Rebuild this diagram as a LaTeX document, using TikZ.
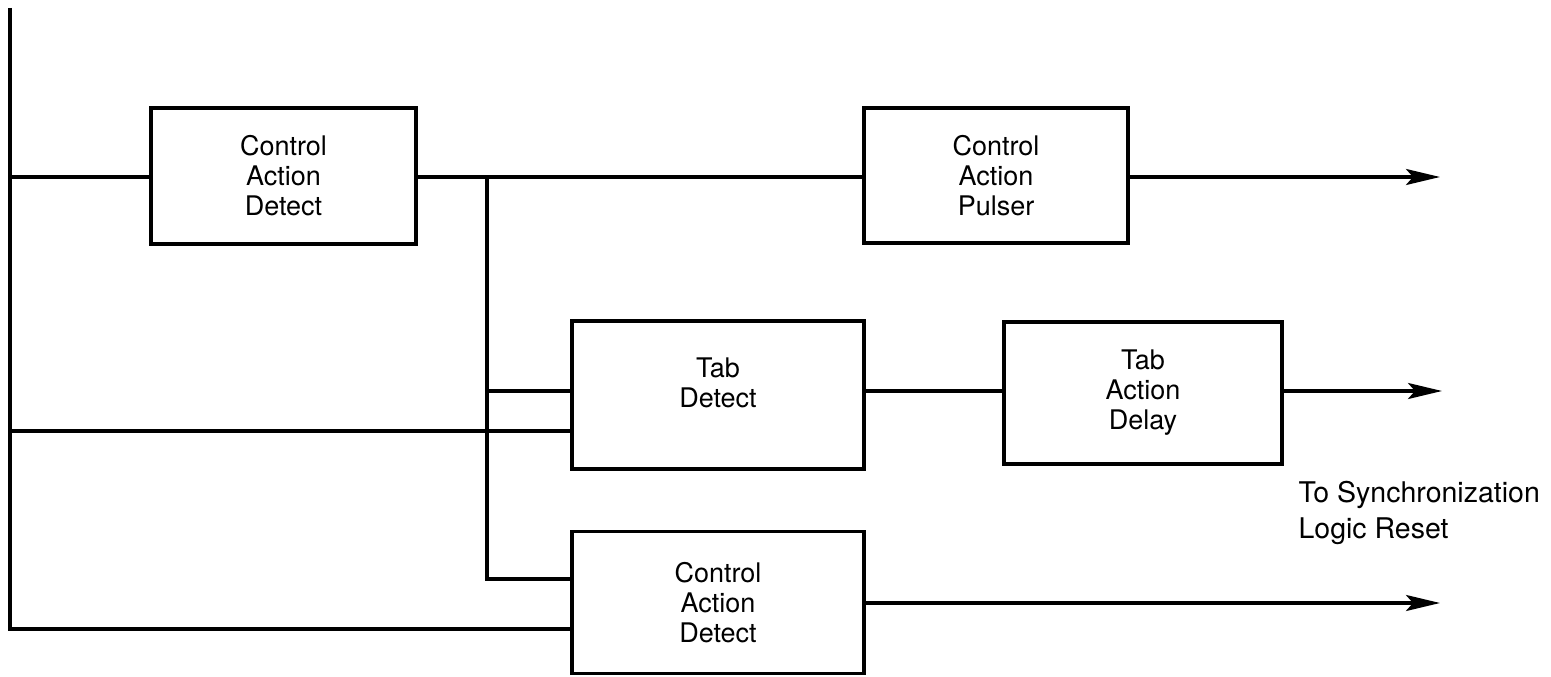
\documentclass[tikz,border=0pt]{standalone}
\usepackage{fontspec}
\setmainfont{TeX Gyre Heros}
\usetikzlibrary{arrows.meta}
\begin{document}
\begin{tikzpicture}[x=1pt,y=-1pt,
  line width=3.2pt,
  blk/.style={draw, line width=3.2pt, inner sep=0pt, align=center,
    font=\fontsize{27}{30}\selectfont},
  conn/.style={line width=3.2pt},
  arr/.style={line width=3.2pt, -{Stealth[length=34pt,width=16pt,inset=7pt]}}]
\useasboundingbox (0,0) rectangle (1551,677);
% blocks
\node[blk, minimum width=265pt, minimum height=136pt] (A) at (283.5,176) {Control\\Action\\Detect};
\node[blk, minimum width=264pt, minimum height=135pt] (B) at (996,175.5) {Control\\Action\\Pulser};
\node[blk, minimum width=292pt, minimum height=148pt] (C) at (718,395) {Tab\\Detect\\[-5pt]};
\node[blk, minimum width=278pt, minimum height=142pt] (D) at (1143,393) {Tab\\Action\\Delay};
\node[blk, minimum width=292pt, minimum height=142pt] (E) at (718,602.5) {Control\\Action\\Detect};
% label
\node[anchor=north west, inner sep=0pt, align=left,
  font=\fontsize{28.5}{36}\selectfont] (L) at (1297,480) {To Synchronization\\Logic Reset};
% junction coordinates
\coordinate (tl) at (10,8);
\coordinate (bl) at (10,629);
\coordinate (pA) at (10,177);
\coordinate (pC) at (10,431);
\coordinate (j1) at (487,177);
\coordinate (j3) at (487,391);
\coordinate (j2) at (487,579);
\coordinate (o1) at (1440,177);
\coordinate (o2) at (1442,391);
\coordinate (o3) at (1440,603);
% connectors
\draw[conn] (tl) -- (bl) -- (bl -| E.west);
\draw[conn] (pA) -- (pA -| A.west);
\draw[conn] (A.east |- j1) -- (B.west |- j1);
\draw[arr] (B.east |- o1) -- (o1);
\draw[conn] (j1) -- (j2) -- (j2 -| E.west);
\draw[conn] (j3) -- (j3 -| C.west);
\draw[conn] (pC) -- (pC -| C.west);
\draw[conn] (C.east |- j3) -- (D.west |- j3);
\draw[arr] (D.east |- o2) -- (o2);
\draw[arr] (E.east |- o3) -- (o3);
\end{tikzpicture}
\end{document}
